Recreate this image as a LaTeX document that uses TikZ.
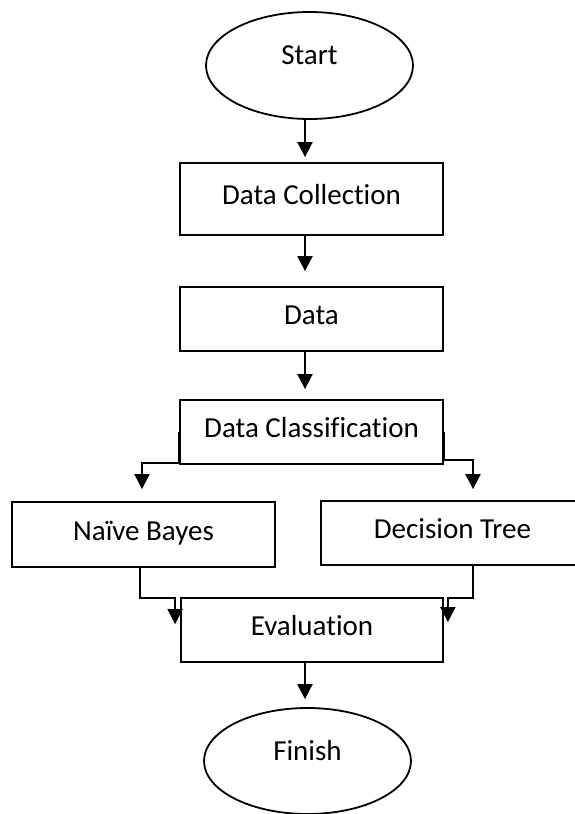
\documentclass[tikz,border=0pt]{standalone}
\usepackage{fontspec}
\setmainfont{Carlito}[Ligatures={NoCommon}]
\usetikzlibrary{shapes.geometric, arrows.meta, positioning, calc}

\begin{document}
\begin{tikzpicture}[
    x=1pt, y=-1pt,
    box/.style={draw, line width=1.8pt, minimum width=263pt, minimum height=64pt, align=center,
        font=\fontsize{29}{34}\selectfont, text height=21pt, text depth=10pt},
    term/.style={draw, ellipse, line width=1.8pt, minimum width=207pt, minimum height=107pt,
        font=\fontsize{29}{34}\selectfont, text height=21pt, text depth=23pt},
    arr/.style={-{Triangle[length=15pt,width=15pt]}, line width=2pt}
]
    \useasboundingbox (0,0) rectangle (574,814);
    \node[term] (start) at (309.5,65.5) {Start};
    \node[box, minimum height=72pt] (collect) at (311.5,199) {Data Collection};
    \node[box] (data) at (311.5,319) {Data};
    \node[box] (classify) at (311.5,432) {Data Classification};
    \node[box, minimum height=65pt] (bayes) at (143.5,534.5) {Naïve Bayes};
    \node[box] (tree) at (452.5,533) {Decision Tree};
    \node[box, minimum width=262pt] (eval) at (312,630) {Evaluation};
    \node[term, minimum height=106pt] (finish) at (307.5,761) {Finish};

    \draw[arr, shorten >=5pt] ([xshift=-4.5pt]start.south) -- ([xshift=-6.5pt]collect.north);
    \draw[arr, shorten >=15pt] ([xshift=-6.5pt]collect.south) -- ([xshift=-6.5pt]data.north);
    \draw[arr, shorten >=10pt] ([xshift=-6.5pt]data.south) -- ([xshift=-6.5pt]classify.north);
    \draw[arr, shorten >=12pt] (classify.west) -- ++(0,31) -| ([xshift=-1.5pt]bayes.north);
    \draw[arr, shorten >=11pt] (classify.east) -- ++(0,28) -| ([xshift=20.5pt]tree.north);
    \draw[arr] ([xshift=-3.5pt]bayes.south) -- ++(0,30.5) -| ([xshift=-5pt,yshift=-27pt]eval.north west);
    \draw[arr] ([xshift=20.5pt]tree.south) -- ++(0,32.5) -| ([xshift=4pt,yshift=-25pt]eval.north east);
    \draw[arr, shorten >=8pt] ([xshift=-7pt]eval.south) -- ([xshift=-2.5pt]finish.north);
\end{tikzpicture}
\end{document}
